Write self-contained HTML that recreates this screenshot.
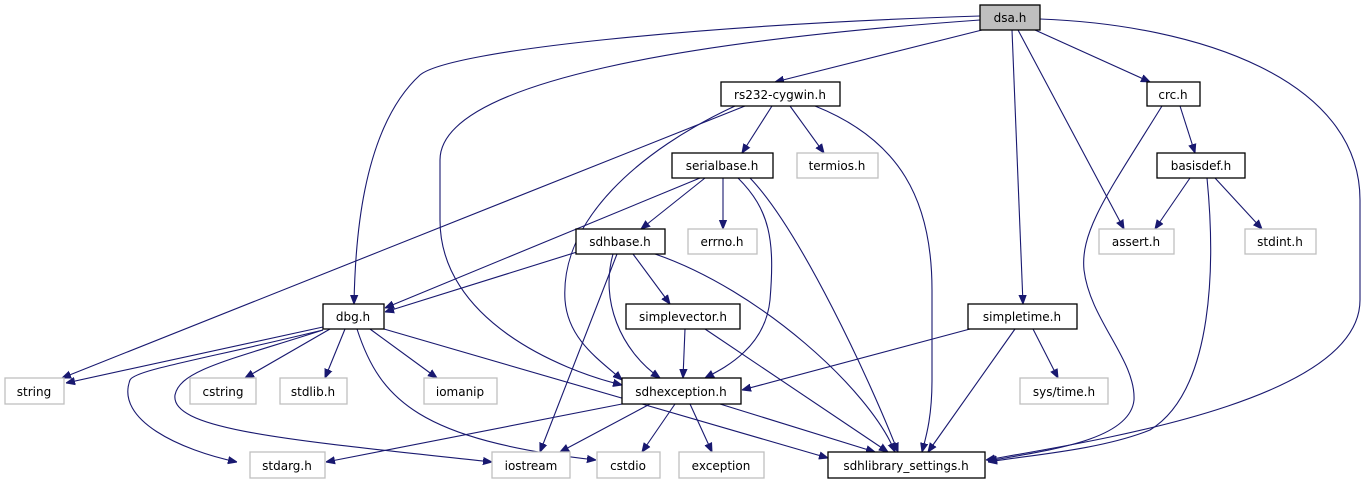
<!DOCTYPE html>
<html><head><meta charset="utf-8"><style>
html,body{margin:0;padding:0;background:#fff;}
svg{display:block;}
text{font-family:"DejaVu Sans","Liberation Sans",sans-serif;font-size:12px;fill:#000;text-anchor:middle;}
.b{fill:#fff;stroke:#000;stroke-width:1.3}
.g{fill:#fff;stroke:#bfbfbf;stroke-width:1.3}
path{fill:none;stroke:#191970;stroke-width:1.1}
</style></head><body>
<svg width="1361" height="485" viewBox="0 0 1361 485" xmlns="http://www.w3.org/2000/svg">
<defs><marker id="a" viewBox="0 0 10 10" refX="10" refY="5" markerWidth="9" markerHeight="9" markerUnits="userSpaceOnUse" orient="auto"><path d="M0,1 L10,5 L0,9 z" style="fill:#191970;stroke:#191970"/></marker></defs>
<g marker-end="url(#a)">
<path d="M982,30 L775,82"/>
<path d="M1035,30 L1150,82"/>
<path d="M980,16 C700,25 450,50 420,75 C360,130 355,250 354,304"/>
<path d="M980,20 C700,40 440,80 440,160 L440,220 C440,320 560,370 622,385"/>
<path d="M1018,30 L1124,229"/>
<path d="M1012,30 L1023,304"/>
<path d="M1040,19 C1200,25 1360,80 1360,200 L1360,300 C1360,400 1100,440 986,460"/>
<path d="M745,106 L62,378"/>
<path d="M735,106 C640,150 560,220 565,300 C568,340 600,360 622,380"/>
<path d="M772,106 L742,153"/>
<path d="M790,106 L824,153"/>
<path d="M815,106 C900,140 932,200 932,290 L932,380 C932,420 925,440 922,452"/>
<path d="M700,178 L385,308"/>
<path d="M705,178 L641,229"/>
<path d="M723,178 L723,229"/>
<path d="M738,178 C770,210 775,240 770,300 C765,350 720,370 705,378"/>
<path d="M750,178 C800,230 870,380 898,452"/>
<path d="M577,252 L385,312"/>
<path d="M617,254 L540,452"/>
<path d="M613,254 C600,300 620,350 660,378"/>
<path d="M633,254 L670,304"/>
<path d="M655,254 C760,290 870,390 895,452"/>
<path d="M685,329 L683,378"/>
<path d="M705,329 L888,452"/>
<path d="M970,329 L742,390"/>
<path d="M1015,329 L928,452"/>
<path d="M1033,329 L1058,378"/>
<path d="M1180,106 L1195,153"/>
<path d="M1162,106 C1110,190 1080,230 1084,270 C1090,320 1136,360 1134,400 C1130,440 1050,450 988,461"/>
<path d="M1190,178 L1155,229"/>
<path d="M1215,178 L1262,229"/>
<path d="M1207,178 C1215,260 1215,390 1150,430 C1100,450 1030,455 988,462"/>
<path d="M323,327 L66,383"/>
<path d="M330,329 L245,378"/>
<path d="M345,329 L325,378"/>
<path d="M370,329 L437,378"/>
<path d="M323,330 C200,360 135,370 130,380 C115,420 180,450 237,462"/>
<path d="M323,330 C230,360 180,370 175,395 C170,430 290,440 492,462"/>
<path d="M357,329 C380,400 420,440 596,460"/>
<path d="M384,329 L828,458"/>
<path d="M622,404 L326,462"/>
<path d="M650,404 L560,452"/>
<path d="M675,404 L642,452"/>
<path d="M690,404 L712,452"/>
<path d="M720,404 L875,452"/>
</g>
<rect x="980" y="5" width="60" height="25" style="fill:#bfbfbf;stroke:#000;stroke-width:1.3"/><text x="1010" y="22">dsa.h</text>
<rect class="b" x="721" y="82" width="119" height="24"/><text x="780" y="99">rs232-cygwin.h</text>
<rect class="b" x="1147" y="82" width="53" height="24"/><text x="1173" y="99">crc.h</text>
<rect class="b" x="672" y="153" width="101" height="25"/><text x="722" y="170">serialbase.h</text>
<rect class="g" x="797" y="153" width="81" height="25"/><text x="837" y="170">termios.h</text>
<rect class="b" x="1157" y="153" width="88" height="25"/><text x="1201" y="170">basisdef.h</text>
<rect class="b" x="576" y="229" width="89" height="25"/><text x="620" y="246">sdhbase.h</text>
<rect class="g" x="688" y="229" width="69" height="25"/><text x="722" y="246">errno.h</text>
<rect class="g" x="1099" y="229" width="75" height="25"/><text x="1136" y="246">assert.h</text>
<rect class="g" x="1245" y="229" width="71" height="25"/><text x="1280" y="246">stdint.h</text>
<rect class="b" x="323" y="304" width="61" height="25"/><text x="353" y="321">dbg.h</text>
<rect class="b" x="626" y="304" width="114" height="25"/><text x="683" y="321">simplevector.h</text>
<rect class="b" x="968" y="304" width="109" height="25"/><text x="1022" y="321">simpletime.h</text>
<rect class="g" x="5" y="378" width="59" height="26"/><text x="34" y="396">string</text>
<rect class="g" x="190" y="378" width="66" height="26"/><text x="223" y="396">cstring</text>
<rect class="g" x="280" y="378" width="67" height="26"/><text x="313" y="396">stdlib.h</text>
<rect class="g" x="424" y="378" width="73" height="26"/><text x="460" y="396">iomanip</text>
<rect class="b" x="622" y="378" width="119" height="26"/><text x="681" y="396">sdhexception.h</text>
<rect class="g" x="1020" y="378" width="88" height="26"/><text x="1064" y="396">sys/time.h</text>
<rect class="g" x="250" y="452" width="75" height="26"/><text x="287" y="470">stdarg.h</text>
<rect class="g" x="492" y="452" width="78" height="26"/><text x="531" y="470">iostream</text>
<rect class="g" x="597" y="452" width="63" height="26"/><text x="628" y="470">cstdio</text>
<rect class="g" x="679" y="452" width="85" height="26"/><text x="721" y="470">exception</text>
<rect class="b" x="828" y="452" width="157" height="26"/><text x="906" y="470">sdhlibrary_settings.h</text>
</svg>
</body></html>
